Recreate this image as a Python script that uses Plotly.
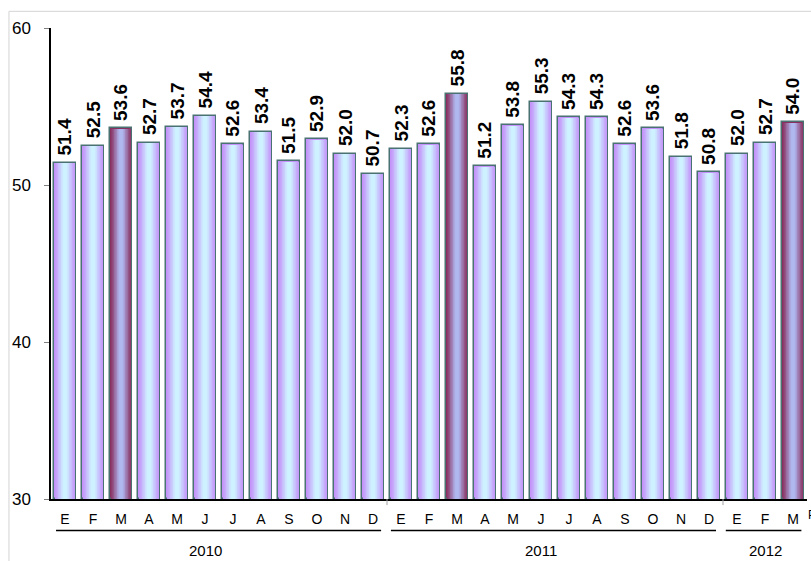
import plotly.graph_objects as go

months = ["E", "F", "M", "A", "M", "J", "J", "A", "S", "O", "N", "D",
          "E", "F", "M", "A", "M", "J", "J", "A", "S", "O", "N", "D",
          "E", "F", "M"]
values = [51.4, 52.5, 53.6, 52.7, 53.7, 54.4, 52.6, 53.4, 51.5, 52.9, 52.0, 50.7,
          52.3, 52.6, 55.8, 51.2, 53.8, 55.3, 54.3, 54.3, 52.6, 53.6, 51.8, 50.8,
          52.0, 52.7, 54.0]
years = ["2010", "2011", "2012"]
year_label_pos = [5, 17, 25]
highlight = [2, 14, 26]

x = list(range(len(values)))


def lerp(c1, c2, t):
    return "rgb(%d,%d,%d)" % tuple(round(a + (b - a) * t) for a, b in zip(c1, c2))


normal_edge, normal_center = (196, 146, 250), (206, 242, 255)
hi_edge, hi_center = (136, 48, 96), (176, 184, 240)

BW = 0.77
N = 14
fig = go.Figure()
base_colors = [lerp(hi_edge, hi_center, 0) if i in highlight else lerp(normal_edge, normal_center, 0) for i in x]
fig.add_trace(go.Bar(
    x=x, y=[v - 30 for v in values], base=30, width=BW,
    marker=dict(color=base_colors, line=dict(color="#4a7272", width=1.5)),
    hoverinfo="skip", showlegend=False,
))
for k in range(1, N):
    t = k / N
    w = BW * (1 - t) - 0.02
    if w <= 0:
        break
    tc = min(1.0, t * 1.25)
    cols = [lerp(hi_edge, hi_center, tc) if i in highlight else lerp(normal_edge, normal_center, tc) for i in x]
    fig.add_trace(go.Bar(
        x=x, y=[v - 30 - 0.06 for v in values], base=30.03, width=w,
        marker=dict(color=cols, line=dict(width=0)),
        hoverinfo="skip", showlegend=False,
    ))

shapes = []
shapes.append(dict(type="rect", xref="paper", yref="paper", x0=-0.0556, x1=1.2,
                   y0=-0.3, y1=1.0354, line=dict(color="#d4d4d4", width=1), layer="below"))
for x0, x1 in [(-0.32, 11.29), (11.64, 23.25), (23.6, 26.3)]:
    shapes.append(dict(type="line", xref="x", yref="paper", x0=x0, x1=x1,
                       y0=-0.0668, y1=-0.0668, line=dict(color="black", width=1.5)))
for xs in [11.5, 23.5]:
    shapes.append(dict(type="line", xref="x", yref="paper", x0=xs, x1=xs,
                       y0=0, y1=-0.013, line=dict(color="#a0a0a0", width=1)))

annotations = []
for i, v in zip(x, values):
    annotations.append(dict(x=i, y=v, xref="x", yref="y", text="%.1f" % v, showarrow=False,
                            textangle=-90, xanchor="center", yanchor="bottom", yshift=5,
                            font=dict(family="Arial, Liberation Sans", size=19, color="black",
                                      weight="bold")))
for yr, p in zip(years, year_label_pos):
    annotations.append(dict(x=p, y=-0.11, xref="x", yref="paper", text=yr, showarrow=False,
                            font=dict(family="Arial, Liberation Sans", size=15, color="black"),
                            yanchor="middle"))
annotations.append(dict(x=26.46, y=-0.035, xref="x", yref="paper", text="P", showarrow=False,
                        xanchor="left", yanchor="middle",
                        font=dict(family="Arial, Liberation Sans", size=12, color="black")))

fig.update_layout(
    width=811, height=561,
    margin=dict(l=51, r=4, t=28, b=62),
    paper_bgcolor="white", plot_bgcolor="white",
    barmode="overlay", bargap=0,
    showlegend=False,
    shapes=shapes, annotations=annotations,
    font=dict(family="Arial, Liberation Sans", color="black"),
    xaxis=dict(range=[-0.5, 26.5], tickvals=x, ticktext=months, showgrid=False,
               zeroline=False, showline=True, linecolor="black", linewidth=1.5,
               ticks="", tickfont=dict(size=14), ticklabelstandoff=6),
    yaxis=dict(range=[30, 60], tickvals=[30, 40, 50, 60], showgrid=False, zeroline=False,
               showline=True, linecolor="black", linewidth=1.5, ticks="outside",
               ticklen=5, tickcolor="#808080", tickfont=dict(size=17), ticklabelstandoff=10),
)

fig.write_html("out.html", config={"displayModeBar": False},
               post_script="document.body.style.margin='0';document.body.style.overflow='hidden';")
